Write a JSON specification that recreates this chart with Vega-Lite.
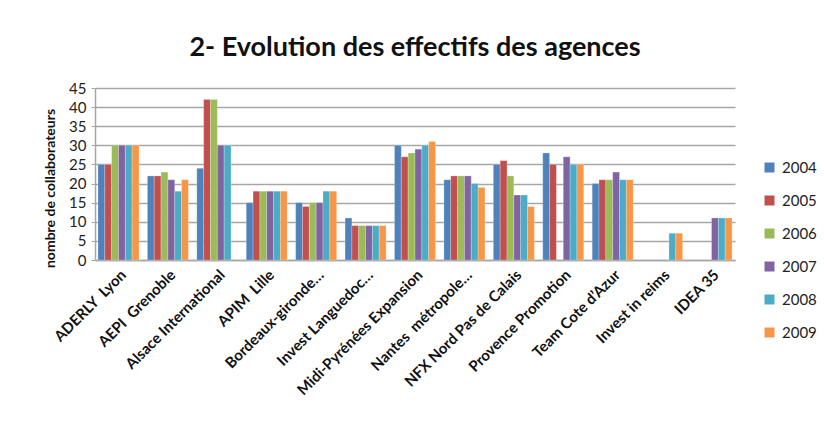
{
  "$schema": "https://vega.github.io/schema/vega-lite/v6.json",
  "autosize": {"type": "none"},
  "width": 640,
  "height": 172,
  "padding": {"left": 95, "top": 88, "right": 89, "bottom": 161},
  "background": "white",
  "title": {"text": "2- Evolution des effectifs des agences", "font": "Lato", "fontSize": 27, "fontWeight": "bold", "color": "#111111", "offset": 19, "anchor": "middle"},
  "config": {
    "view": {"stroke": null},
    "font": "Lato"
  },
  "data": {"values": [
    {"agence": "ADERLY\u00a0 Lyon", "annee": "2004", "effectif": 25},
    {"agence": "ADERLY\u00a0 Lyon", "annee": "2005", "effectif": 25},
    {"agence": "ADERLY\u00a0 Lyon", "annee": "2006", "effectif": 30},
    {"agence": "ADERLY\u00a0 Lyon", "annee": "2007", "effectif": 30},
    {"agence": "ADERLY\u00a0 Lyon", "annee": "2008", "effectif": 30},
    {"agence": "ADERLY\u00a0 Lyon", "annee": "2009", "effectif": 30},
    {"agence": "AEPI\u00a0 Grenoble", "annee": "2004", "effectif": 22},
    {"agence": "AEPI\u00a0 Grenoble", "annee": "2005", "effectif": 22},
    {"agence": "AEPI\u00a0 Grenoble", "annee": "2006", "effectif": 23},
    {"agence": "AEPI\u00a0 Grenoble", "annee": "2007", "effectif": 21},
    {"agence": "AEPI\u00a0 Grenoble", "annee": "2008", "effectif": 18},
    {"agence": "AEPI\u00a0 Grenoble", "annee": "2009", "effectif": 21},
    {"agence": "Alsace International", "annee": "2004", "effectif": 24},
    {"agence": "Alsace International", "annee": "2005", "effectif": 42},
    {"agence": "Alsace International", "annee": "2006", "effectif": 42},
    {"agence": "Alsace International", "annee": "2007", "effectif": 30},
    {"agence": "Alsace International", "annee": "2008", "effectif": 30},
    {"agence": "APIM\u00a0 Lille", "annee": "2004", "effectif": 15},
    {"agence": "APIM\u00a0 Lille", "annee": "2005", "effectif": 18},
    {"agence": "APIM\u00a0 Lille", "annee": "2006", "effectif": 18},
    {"agence": "APIM\u00a0 Lille", "annee": "2007", "effectif": 18},
    {"agence": "APIM\u00a0 Lille", "annee": "2008", "effectif": 18},
    {"agence": "APIM\u00a0 Lille", "annee": "2009", "effectif": 18},
    {"agence": "Bordeaux-gironde…", "annee": "2004", "effectif": 15},
    {"agence": "Bordeaux-gironde…", "annee": "2005", "effectif": 14},
    {"agence": "Bordeaux-gironde…", "annee": "2006", "effectif": 15},
    {"agence": "Bordeaux-gironde…", "annee": "2007", "effectif": 15},
    {"agence": "Bordeaux-gironde…", "annee": "2008", "effectif": 18},
    {"agence": "Bordeaux-gironde…", "annee": "2009", "effectif": 18},
    {"agence": "Invest Languedoc…", "annee": "2004", "effectif": 11},
    {"agence": "Invest Languedoc…", "annee": "2005", "effectif": 9},
    {"agence": "Invest Languedoc…", "annee": "2006", "effectif": 9},
    {"agence": "Invest Languedoc…", "annee": "2007", "effectif": 9},
    {"agence": "Invest Languedoc…", "annee": "2008", "effectif": 9},
    {"agence": "Invest Languedoc…", "annee": "2009", "effectif": 9},
    {"agence": "Midi-Pyrénées Expansion", "annee": "2004", "effectif": 30},
    {"agence": "Midi-Pyrénées Expansion", "annee": "2005", "effectif": 27},
    {"agence": "Midi-Pyrénées Expansion", "annee": "2006", "effectif": 28},
    {"agence": "Midi-Pyrénées Expansion", "annee": "2007", "effectif": 29},
    {"agence": "Midi-Pyrénées Expansion", "annee": "2008", "effectif": 30},
    {"agence": "Midi-Pyrénées Expansion", "annee": "2009", "effectif": 31},
    {"agence": "Nantes\u00a0 métropole…", "annee": "2004", "effectif": 21},
    {"agence": "Nantes\u00a0 métropole…", "annee": "2005", "effectif": 22},
    {"agence": "Nantes\u00a0 métropole…", "annee": "2006", "effectif": 22},
    {"agence": "Nantes\u00a0 métropole…", "annee": "2007", "effectif": 22},
    {"agence": "Nantes\u00a0 métropole…", "annee": "2008", "effectif": 20},
    {"agence": "Nantes\u00a0 métropole…", "annee": "2009", "effectif": 19},
    {"agence": "NFX Nord Pas de Calais", "annee": "2004", "effectif": 25},
    {"agence": "NFX Nord Pas de Calais", "annee": "2005", "effectif": 26},
    {"agence": "NFX Nord Pas de Calais", "annee": "2006", "effectif": 22},
    {"agence": "NFX Nord Pas de Calais", "annee": "2007", "effectif": 17},
    {"agence": "NFX Nord Pas de Calais", "annee": "2008", "effectif": 17},
    {"agence": "NFX Nord Pas de Calais", "annee": "2009", "effectif": 14},
    {"agence": "Provence Promotion", "annee": "2004", "effectif": 28},
    {"agence": "Provence Promotion", "annee": "2005", "effectif": 25},
    {"agence": "Provence Promotion", "annee": "2007", "effectif": 27},
    {"agence": "Provence Promotion", "annee": "2008", "effectif": 25},
    {"agence": "Provence Promotion", "annee": "2009", "effectif": 25},
    {"agence": "Team Cote d’Azur", "annee": "2004", "effectif": 20},
    {"agence": "Team Cote d’Azur", "annee": "2005", "effectif": 21},
    {"agence": "Team Cote d’Azur", "annee": "2006", "effectif": 21},
    {"agence": "Team Cote d’Azur", "annee": "2007", "effectif": 23},
    {"agence": "Team Cote d’Azur", "annee": "2008", "effectif": 21},
    {"agence": "Team Cote d’Azur", "annee": "2009", "effectif": 21},
    {"agence": "Invest in reims", "annee": "2008", "effectif": 7},
    {"agence": "Invest in reims", "annee": "2009", "effectif": 7},
    {"agence": "IDEA 35", "annee": "2007", "effectif": 11},
    {"agence": "IDEA 35", "annee": "2008", "effectif": 11},
    {"agence": "IDEA 35", "annee": "2009", "effectif": 11}
  ]},
  "mark": {"type": "bar", "stroke": "white", "strokeWidth": 0.4, "strokeOpacity": 0.6},
  "encoding": {
    "x": {
      "field": "agence", "type": "nominal", "sort": null,
      "scale": {"paddingInner": 0.17, "paddingOuter": 0.06},
      "axis": {"title": null, "labelAngle": -45, "labelFont": "Lato", "labelFontSize": 15, "labelFontWeight": "bold", "labelColor": "#111111", "ticks": false, "domainColor": "#A6A6A6", "domainWidth": 1.5, "labelPadding": 7, "labelLimit": 250}
    },
    "xOffset": {"field": "annee", "type": "nominal", "scale": {"domain": ["2004", "2005", "2006", "2007", "2008", "2009"]}},
    "y": {
      "field": "effectif", "type": "quantitative",
      "scale": {"domain": [0, 45], "nice": false},
      "axis": {"title": "nombre de collaborateurs", "titleFont": "Lato", "titleFontSize": 14, "titleFontWeight": "bold", "titleColor": "#111111", "titleY": 100, "titlePadding": 11, "values": [0, 5, 10, 15, 20, 25, 30, 35, 40, 45], "labelFont": "Lato", "labelFontSize": 15, "labelColor": "#222222", "labelPadding": 5, "tickColor": "#A6A6A6", "tickSize": 4, "domainColor": "#A6A6A6", "domainWidth": 1.5, "gridColor": "#A6A6A6", "gridWidth": 1.5}
    },
    "color": {
      "field": "annee", "type": "nominal",
      "scale": {"domain": ["2004", "2005", "2006", "2007", "2008", "2009"], "range": ["#4F81BD", "#C0504D", "#9BBB59", "#8064A2", "#4BACC6", "#F79646"]},
      "legend": {"title": null, "orient": "none", "legendX": 667, "legendY": 72, "padding": 0, "symbolType": "square", "symbolSize": 100, "symbolStrokeWidth": 0, "labelFont": "Lato", "labelFontSize": 15, "labelColor": "#222222", "rowPadding": 17, "labelOffset": 5}
    }
  }
}
